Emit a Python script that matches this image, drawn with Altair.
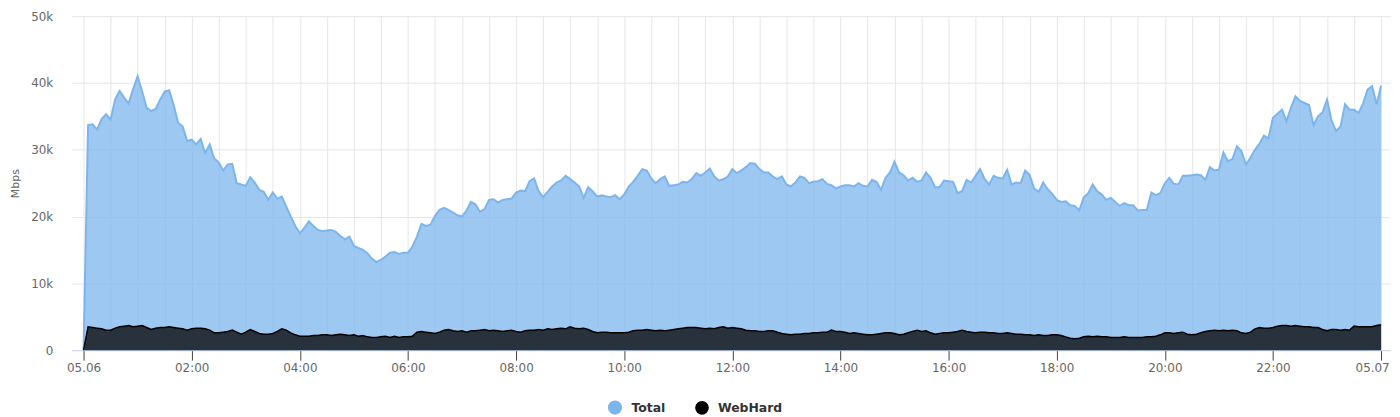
import altair as alt
import pandas as pd

STEP_MIN = 5  # sampling interval in minutes, starting 05.06 00:00

# Values in k Mbps, one per 5 minutes (289 samples: 00:00 .. 24:00)
total_k = [0,
    33.7, 33.8, 33.0, 34.6, 35.3, 34.5, 37.5, 38.8, 37.8, 36.9, 39.1, 41.0,
    38.7, 36.3, 35.8, 36.1, 37.5, 38.7, 38.9, 36.7, 34.0, 33.5, 31.3, 31.5,
    30.8, 31.6, 29.5, 30.8, 28.7, 28.1, 26.9, 27.8, 27.9, 25.0, 24.8, 24.6,
    25.9, 25.1, 24.0, 23.7, 22.5, 23.6, 22.7, 23.0, 21.5, 20.0, 18.6, 17.5,
    18.3, 19.3, 18.6, 18.0, 17.8, 17.9, 18.0, 17.7, 17.1, 16.6, 17.0, 15.6,
    15.3, 15.0, 14.5, 13.7, 13.2, 13.5, 14.0, 14.6, 14.7, 14.4, 14.6, 14.6,
    15.5, 17.0, 18.9, 18.6, 18.8, 20.1, 21.0, 21.3, 21.0, 20.6, 20.2, 20.0,
    20.9, 22.2, 21.8, 20.7, 21.1, 22.5, 22.6, 22.1, 22.5, 22.6, 22.7, 23.6,
    23.9, 23.8, 25.3, 25.7, 23.8, 22.9, 23.7, 24.5, 25.1, 25.4, 26.1, 25.6,
    25.1, 24.5, 22.8, 24.4, 23.8, 23.0, 23.2, 23.0, 22.9, 23.2, 22.6, 23.3,
    24.5, 25.2, 26.1, 27.1, 26.9, 25.7, 25.0, 25.6, 26.0, 24.6, 24.7, 24.8,
    25.2, 25.1, 25.6, 26.5, 26.1, 26.6, 27.2, 26.0, 25.4, 25.6, 26.0, 27.1,
    26.5, 26.9, 27.4, 28.0, 27.9, 27.1, 26.6, 26.6, 26.0, 25.6, 26.0, 24.8,
    24.5, 25.1, 26.0, 25.8, 25.0, 25.2, 25.3, 25.6, 24.9, 24.7, 24.2, 24.5,
    24.7, 24.7, 24.5, 25.0, 24.6, 24.5, 25.5, 25.2, 24.0, 25.8, 26.6, 28.2,
    26.6, 26.2, 25.4, 25.8, 25.2, 25.4, 26.6, 25.8, 24.4, 24.4, 25.4, 25.3,
    25.2, 23.5, 23.8, 25.5, 25.1, 26.1, 27.1, 25.6, 24.8, 26.1, 25.8, 25.7,
    27.0, 24.8, 25.1, 25.0, 26.9, 26.2, 24.2, 23.7, 25.1, 24.1, 23.4, 22.5,
    22.2, 22.3, 21.7, 21.6, 20.9, 22.9, 23.5, 24.8, 23.8, 23.3, 22.5, 22.8,
    22.2, 21.6, 22.0, 21.7, 21.7, 20.9, 21.0, 21.0, 23.6, 23.2, 23.5, 25.0,
    25.8, 24.9, 24.8, 26.1, 26.1, 26.2, 26.3, 26.2, 25.5, 27.4, 26.9, 27.0,
    29.6, 28.3, 28.6, 30.5, 29.8, 27.8, 28.8, 30.0, 30.9, 32.1, 31.7, 34.8,
    35.4, 36.0, 34.3, 36.3, 38.0, 37.3, 37.0, 36.7, 33.7, 35.0, 35.6, 37.5,
    34.4, 32.8, 33.5, 36.8, 36.0, 36.0, 35.5, 36.9, 39.0, 39.5, 36.8, 39.6,
]

webhard_k = [0,
    3.5, 3.4, 3.3, 3.2, 3.0, 3.0, 3.3, 3.5, 3.6, 3.7, 3.5, 3.6,
    3.7, 3.4, 3.1, 3.3, 3.4, 3.4, 3.5, 3.4, 3.3, 3.2, 3.0, 3.2,
    3.3, 3.3, 3.2, 3.0, 2.6, 2.6, 2.7, 2.8, 3.0, 2.7, 2.4, 2.7,
    3.1, 2.8, 2.5, 2.4, 2.4, 2.5, 2.8, 3.2, 3.0, 2.6, 2.3, 2.1,
    2.1, 2.1, 2.2, 2.2, 2.3, 2.3, 2.2, 2.3, 2.4, 2.3, 2.2, 2.3,
    2.1, 2.2, 2.0, 1.9, 1.9, 2.0, 2.1, 1.9, 2.1, 1.9, 2.0, 2.0,
    2.1, 2.7, 2.8, 2.7, 2.6, 2.5, 2.7, 3.0, 3.1, 2.9, 2.8, 2.9,
    2.7, 2.9, 2.9, 3.0, 3.1, 2.9, 3.0, 2.9, 2.8, 2.9, 3.0, 2.8,
    2.7, 2.9, 3.0, 3.0, 3.1, 3.0, 3.2, 3.1, 3.2, 3.3, 3.2, 3.5,
    3.3, 3.2, 3.3, 3.1, 2.8, 2.6, 2.7, 2.7, 2.6, 2.6, 2.6, 2.6,
    2.7, 2.9, 3.0, 3.0, 3.1, 3.0, 2.9, 3.0, 2.9, 3.0, 3.1, 3.2,
    3.3, 3.4, 3.4, 3.4, 3.3, 3.2, 3.3, 3.2, 3.4, 3.5, 3.3, 3.4,
    3.3, 3.2, 3.0, 2.9, 2.9, 2.8, 2.8, 2.9, 2.9, 2.7, 2.5, 2.4,
    2.3, 2.4, 2.4, 2.5, 2.5, 2.6, 2.6, 2.7, 2.7, 3.0, 2.8, 2.8,
    2.7, 2.5, 2.6, 2.5, 2.4, 2.3, 2.3, 2.4, 2.5, 2.6, 2.6, 2.5,
    2.3, 2.4, 2.6, 2.8, 3.0, 2.8, 2.9, 2.6, 2.4, 2.5, 2.6, 2.6,
    2.7, 2.8, 3.0, 2.8, 2.7, 2.6, 2.7, 2.7, 2.6, 2.6, 2.5, 2.5,
    2.6, 2.5, 2.4, 2.4, 2.3, 2.3, 2.2, 2.3, 2.2, 2.2, 2.3, 2.3,
    2.2, 2.0, 1.8, 1.7, 1.8, 2.0, 2.1, 2.0, 2.1, 2.0, 2.0, 1.9,
    1.9, 1.9, 2.0, 1.9, 1.9, 1.9, 1.9, 2.0, 2.0, 2.1, 2.3, 2.6,
    2.6, 2.5, 2.6, 2.7, 2.4, 2.3, 2.4, 2.6, 2.8, 2.9, 3.0, 2.9,
    3.0, 2.9, 3.0, 2.9, 2.6, 2.5, 2.7, 3.2, 3.4, 3.3, 3.3, 3.4,
    3.6, 3.7, 3.7, 3.6, 3.7, 3.6, 3.5, 3.5, 3.4, 3.4, 3.1, 2.9,
    3.1, 3.1, 3.0, 3.1, 3.0, 3.6, 3.5, 3.5, 3.5, 3.5, 3.7, 3.8,
]

series_names = ["Total", "WebHard"]
series_colors = ["#7cb5ec", "#000000"]
y_ticks = [0, 10000, 20000, 30000, 40000, 50000]
x_grid = list(range(0, 1441, 30))

rows = []
for name, vals in zip(series_names, [total_k, webhard_k]):
    for i, v in enumerate(vals):
        rows.append({"minute": i * STEP_MIN, "value": v * 1000, "series": name})
df = pd.DataFrame(rows)

FONT = "DejaVu Sans"
FS = 12

x_label_expr = (
    "datum.value == 0 ? '05.06' : datum.value == 1440 ? '05.07' : "
    "datum.value % 120 == 0 ? ((datum.value / 60 < 10 ? '0' : '') + (datum.value / 60) + ':00') : ''"
)

x_enc = alt.X(
    "minute:Q",
    scale=alt.Scale(domain=[-13.24, 1449.9], nice=False, zero=False),
    axis=alt.Axis(
        values=x_grid,
        title=None,
        labelExpr=x_label_expr,
        labelFlush=False,
        labelOverlap=False,
        labelFont=FONT,
        labelFontSize=FS,
        labelColor="#666666",
        labelPadding=2,
        labelOffset={"condition": {"test": "datum.value == 1440", "value": -9}, "value": 0},
        tickSize=10,
        tickColor={"condition": {"test": "datum.value % 120 == 0", "value": "#444444"},
                   "value": "rgba(0,0,0,0)"},
        domainColor="#ccd6eb",
        grid=True,
        gridColor="#e6e6e6",
        gridWidth=1,
    ),
)

y_enc = alt.Y(
    "value:Q",
    stack=None,
    scale=alt.Scale(domain=[0, 50000], nice=False),
    axis=alt.Axis(
        values=y_ticks,
        title="Mbps",
        titleFont=FONT,
        titleFontSize=11,
        titleFontWeight="normal",
        titleColor="#666666",
        titlePadding=10,
        labelExpr="datum.value == 0 ? '0' : (datum.value / 1000) + 'k'",
        labelFont=FONT,
        labelFontSize=FS,
        labelColor="#666666",
        labelPadding=19,
        ticks=False,
        domain=False,
        grid=True,
        gridColor="#e6e6e6",
    ),
)

color_enc = alt.Color(
    "series:N",
    scale=alt.Scale(domain=series_names, range=series_colors),
    legend=alt.Legend(
        title=None,
        orient="none",
        legendX=539,
        legendY=386,
        direction="horizontal",
        symbolType="circle",
        symbolSize=150,
        symbolOpacity=1,
        symbolStrokeWidth=0,
        labelFont=FONT,
        labelFontSize=12.5,
        labelFontWeight="bold",
        labelColor="#333333",
        labelOffset=9,
        columnPadding=26,
        padding=0,
    ),
)

base = alt.Chart(df).encode(x=x_enc, y=y_enc, color=color_enc)

area = base.mark_area(fillOpacity=0.75, strokeWidth=0)
line = base.mark_line().encode(
    strokeWidth=alt.StrokeWidth(
        "series:N",
        scale=alt.Scale(domain=series_names, range=[2, 1.5]),
        legend=None,
    )
)

chart = (
    alt.layer(area, line)
    .properties(
        width=1326,
        height=336,
        autosize=alt.AutoSizeParams(type="none"),
        padding={"left": 64, "top": 7, "right": 2, "bottom": 66},
    )
    .configure_view(stroke=None)
)

chart.save("out.html", embed_options={"renderer": "svg", "actions": False})
